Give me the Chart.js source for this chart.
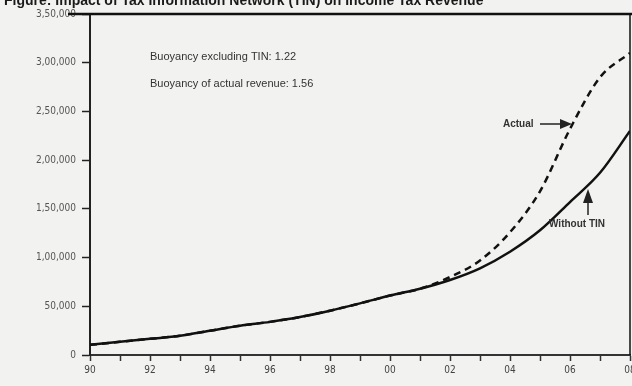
<!DOCTYPE html>
<html>
<head>
<meta charset="utf-8">
<script src="https://cdn.jsdelivr.net/npm/chart.js@4.4.1/dist/chart.umd.min.js"></script>
<style>
  html, body { margin: 0; padding: 0; background: #f2f2f0; }
  #wrap { width: 632px; height: 386px; }
</style>
</head>
<body>
<div id="wrap"><canvas id="tinChart" width="632" height="386"></canvas></div>
<script>
// Data (Rs. crore, Indian digit grouping)
const years = [1990, 1991, 1992, 1993, 1994, 1995, 1996, 1997, 1998, 1999, 2000, 2001, 2002, 2003, 2004, 2005, 2006, 2007, 2008];
const withoutTin = [10400, 13500, 16600, 19700, 24900, 30000, 34000, 39000, 45500, 53000, 61000, 68000, 77000, 89000, 106000, 128000, 157000, 187000, 230000];
const actualRevenue = [10400, 13500, 16600, 19700, 24900, 30000, 34000, 39000, 45500, 53000, 61000, 68000, 80000, 97000, 126000, 168000, 232000, 285000, 310000];
const yTickValues = [0, 50000, 100000, 150000, 200000, 250000, 300000, 350000];
const yTickLabels = ['0', '50,000', '1,00,000', '1,50,000', '2,00,000', '2,50,000', '3,00,000', '3,50,000'];
const xTickLabels = ['90', '92', '94', '96', '98', '00', '02', '04', '06', '08'];

const titleText = 'Figure: Impact of Tax Information Network (TIN) on Income Tax Revenue';
const noteLines = ['Buoyancy excluding TIN: 1.22', 'Buoyancy of actual revenue: 1.56'];

const tickFont = { family: '"Liberation Sans Narrow", "DejaVu Sans Condensed", sans-serif', size: 10 };

// paper background + frame + notes
const decorations = {
    id: 'decorations',
    beforeDraw(chart) {
        const ctx = chart.ctx;
        ctx.save();
        ctx.fillStyle = '#f2f2f0';
        ctx.fillRect(0, 0, chart.width, chart.height);
        ctx.restore();
    },
    afterDraw(chart) {
        const ctx = chart.ctx;
        const area = chart.chartArea;
        ctx.save();
        // title, clipped at top like the scan
        ctx.fillStyle = '#1a1a1a';
        ctx.font = 'bold 14px "Liberation Sans Narrow", sans-serif';
        ctx.textBaseline = 'alphabetic';
        ctx.fillText(titleText, 4, 5, 520);
        // top rule
        ctx.strokeStyle = '#111';
        ctx.lineWidth = 2.5;
        ctx.beginPath();
        ctx.moveTo(68, area.top);
        ctx.lineTo(chart.width, area.top);
        ctx.stroke();
        // right border
        ctx.lineWidth = 1.5;
        ctx.beginPath();
        ctx.moveTo(area.right, area.top);
        ctx.lineTo(area.right, area.bottom);
        ctx.stroke();

        // buoyancy notes
        ctx.fillStyle = '#333';
        ctx.font = '11px "Liberation Sans Narrow", sans-serif';
        ctx.textBaseline = 'middle';
        ctx.fillText(noteLines[0], 150, 57);
        ctx.fillText(noteLines[1], 150, 84);

        // labels with arrows
        ctx.font = 'bold 10px "Liberation Sans Narrow", sans-serif';
        ctx.fillStyle = '#333';
        ctx.fillText('Actual', 503, 124);
        ctx.fillText('Without TIN', 549, 224);

        ctx.strokeStyle = '#222';
        ctx.fillStyle = '#222';
        ctx.lineWidth = 1.5;
        ctx.beginPath();
        ctx.moveTo(540, 124);
        ctx.lineTo(562, 124);
        ctx.stroke();
        ctx.beginPath();
        ctx.moveTo(572, 124);
        ctx.lineTo(560, 119);
        ctx.lineTo(560, 129);
        ctx.closePath();
        ctx.fill();

        ctx.beginPath();
        ctx.moveTo(588, 215);
        ctx.lineTo(588, 200);
        ctx.stroke();
        ctx.beginPath();
        ctx.moveTo(588, 189);
        ctx.lineTo(583, 203);
        ctx.lineTo(593, 203);
        ctx.closePath();
        ctx.fill();
        ctx.restore();
    }
};

const ctx = document.getElementById('tinChart').getContext('2d');
const tinChart = new Chart(ctx, {
    type: 'line',
    data: {
        labels: years,
        datasets: [{
            label: 'Without TIN',
            data: years.map((yr, i) => ({ x: yr, y: withoutTin[i] })),
            borderColor: '#111',
            borderWidth: 2.5,
            pointRadius: 0,
            fill: false,
            cubicInterpolationMode: 'monotone'
        }, {
            label: 'Actual',
            data: years.map((yr, i) => ({ x: yr, y: actualRevenue[i] })),
            borderColor: '#111',
            borderWidth: 2.5,
            borderDash: [7, 5],
            pointRadius: 0,
            fill: false,
            cubicInterpolationMode: 'monotone'
        }]
    },
    options: {
        responsive: false,
        animation: false,
        layout: { padding: { top: 14, right: 2, left: 0, bottom: 0 } },
        plugins: {
            legend: { display: false },
            title: { display: false },
            tooltip: { enabled: false }
        },
        scales: {
            x: {
                type: 'linear',
                min: 1990,
                max: 2008,
                afterFit(scale) {
                    scale.height = 31;
                    scale.paddingRight = 0;
                },
                afterBuildTicks(scale) {
                    scale.ticks = years.map(v => ({ value: v }));
                },
                border: { display: true, color: '#333', width: 2 },
                grid: { drawOnChartArea: false, tickLength: 6, color: '#333', tickWidth: 1.5 },
                ticks: {
                    autoSkip: false,
                    maxRotation: 0,
                    padding: 3,
                    color: '#444',
                    font: tickFont,
                    callback: function (value) {
                        const idx = (value - 1990) / 2;
                        return Number.isInteger(idx) ? xTickLabels[idx] : '';
                    }
                }
            },
            y: {
                min: 0,
                max: 350000,
                afterFit(scale) { scale.width = 90; },
                afterBuildTicks(scale) {
                    scale.ticks = yTickValues.map(v => ({ value: v }));
                },
                border: { display: true, color: '#222', width: 2 },
                grid: { drawOnChartArea: false, tickLength: 8, color: '#222', tickWidth: 1.5 },
                ticks: {
                    padding: 6,
                    color: '#555',
                    font: tickFont,
                    callback: function (value) {
                        const idx = yTickValues.indexOf(value);
                        return idx >= 0 ? yTickLabels[idx] : '';
                    }
                }
            }
        }
    },
    plugins: [decorations]
});
</script>
</body>
</html>
